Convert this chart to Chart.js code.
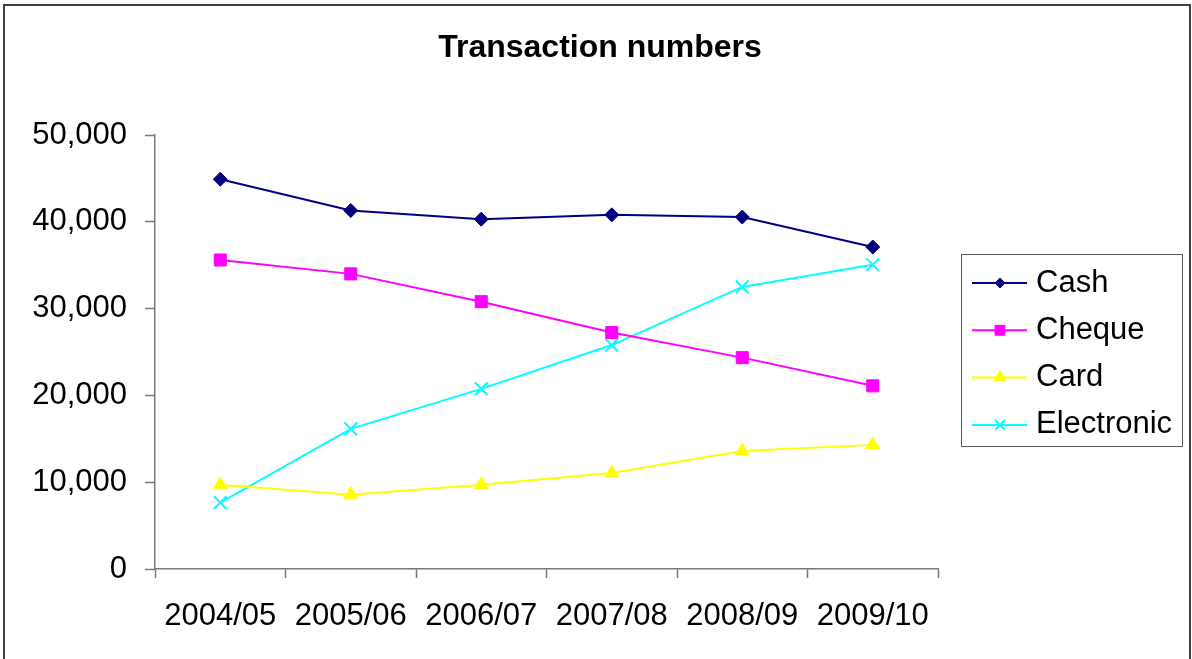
<!DOCTYPE html>
<html>
<head>
<meta charset="utf-8">
<title>Transaction numbers</title>
<script src="https://cdn.jsdelivr.net/npm/chart.js@4.4.1/dist/chart.umd.min.js"></script>
<style>
  html, body { margin: 0; padding: 0; background: #fff; }
  canvas { display: block; }
</style>
</head>
<body>
<canvas id="chart" width="1192" height="659"></canvas>
<script>
// data
const years = ['2004/05', '2005/06', '2006/07', '2007/08', '2008/09', '2009/10'];
const cash = [44900, 41300, 40300, 40800, 40550, 37100];
const cheque = [35600, 34000, 30800, 27250, 24350, 21100];
const card = [9700, 8550, 9700, 11050, 13600, 14300];
const electronic = [7650, 16150, 20750, 25800, 32500, 35050];
const yTicks = [0, 10000, 20000, 30000, 40000, 50000];
const chartTitle = 'Transaction numbers';

const FONT = 'Liberation Sans, Arial, sans-serif';
const AXIS = '#7a7a7a';

function series(label, data, color, style, radius, legendRadius) {
    return {
        label: label,
        data: data,
        borderColor: color,
        backgroundColor: color,
        borderWidth: 2,
        tension: 0,
        pointStyle: style,
        pointRadius: radius,
        pointHoverRadius: radius,
        pointBackgroundColor: color,
        pointBorderColor: color,
        pointBorderWidth: style === 'crossRot' ? 2 : 1,
        legendRadius: legendRadius
    };
}

// outer frame + title centred on the whole chart (not just the plot area)
const framePlugin = {
    id: 'frame',
    beforeDraw(chart) {
        const ctx = chart.ctx;
        ctx.save();
        ctx.fillStyle = '#fff';
        ctx.fillRect(0, 0, chart.width, chart.height);
        ctx.strokeStyle = '#404040';
        ctx.lineWidth = 2;
        ctx.strokeRect(4, 5, 1186, 720);
        ctx.fillStyle = '#000';
        ctx.font = 'bold 32px ' + FONT;
        ctx.textAlign = 'center';
        ctx.textBaseline = 'middle';
        ctx.fillText(chartTitle, 600, 48);
        ctx.restore();
    }
};

// Excel-style legend box: line + marker + label
const boxLegend = {
    id: 'boxLegend',
    afterDraw(chart) {
        const ctx = chart.ctx;
        ctx.save();
        ctx.strokeStyle = '#555';
        ctx.lineWidth = 1;
        ctx.strokeRect(961.5, 254.5, 221, 192);
        chart.data.datasets.forEach(function(ds, i) {
            const y = 283 + i * 47.3;
            ctx.strokeStyle = ds.borderColor;
            ctx.lineWidth = 2;
            ctx.beginPath();
            ctx.moveTo(972, y);
            ctx.lineTo(1027, y);
            ctx.stroke();
            ctx.fillStyle = ds.borderColor;
            ctx.strokeStyle = ds.borderColor;
            ctx.lineWidth = ds.pointBorderWidth;
            Chart.helpers.drawPoint(ctx, {
                pointStyle: ds.pointStyle,
                radius: ds.legendRadius,
                rotation: 0,
                borderWidth: ds.pointBorderWidth
            }, 1000, y);
            ctx.fillStyle = '#000';
            ctx.font = '31px ' + FONT;
            ctx.textAlign = 'left';
            ctx.textBaseline = 'middle';
            ctx.fillText(ds.label, 1036, y);
        });
        ctx.restore();
    }
};

new Chart(document.getElementById('chart').getContext('2d'), {
    type: 'line',
    data: {
        labels: years,
        datasets: [
            series('Cash', cash, '#000080', 'rectRot', 7, 5),
            series('Cheque', cheque, '#FF00FF', 'rect', 8.5, 7),
            series('Card', card, '#FFFF00', 'triangle', 8, 7),
            series('Electronic', electronic, '#00FFFF', 'crossRot', 9, 7)
        ]
    },
    options: {
        responsive: false,
        animation: false,
        events: [],
        layout: {
            padding: { left: 0, right: 254, top: 135, bottom: 0 }
        },
        plugins: {
            legend: { display: false },
            tooltip: { enabled: false },
            title: { display: false }
        },
        scales: {
            x: {
                type: 'category',
                offset: true,
                grid: {
                    offset: true,
                    drawOnChartArea: false,
                    drawTicks: true,
                    tickLength: 9,
                    tickColor: AXIS,
                    tickWidth: 1.5
                },
                border: { display: true, color: AXIS, width: 1.5 },
                ticks: {
                    color: '#000',
                    font: { family: FONT, size: 31 },
                    padding: 20,
                    maxRotation: 0,
                    autoSkip: false
                },
                afterFit(scale) { scale.height = 90; }
            },
            y: {
                min: 0,
                max: 50000,
                afterBuildTicks(scale) {
                    scale.ticks = yTicks.map(v => ({ value: v }));
                },
                grid: {
                    drawOnChartArea: false,
                    drawTicks: true,
                    tickLength: 10,
                    tickColor: AXIS,
                    tickWidth: 1.5
                },
                border: { display: true, color: AXIS, width: 1.5 },
                ticks: {
                    color: '#000',
                    font: { family: FONT, size: 31 },
                    padding: 18,
                    callback: v => v.toLocaleString('en-US')
                },
                afterFit(scale) { scale.width = 155; }
            }
        }
    },
    plugins: [framePlugin, boxLegend]
});
</script>
</body>
</html>
